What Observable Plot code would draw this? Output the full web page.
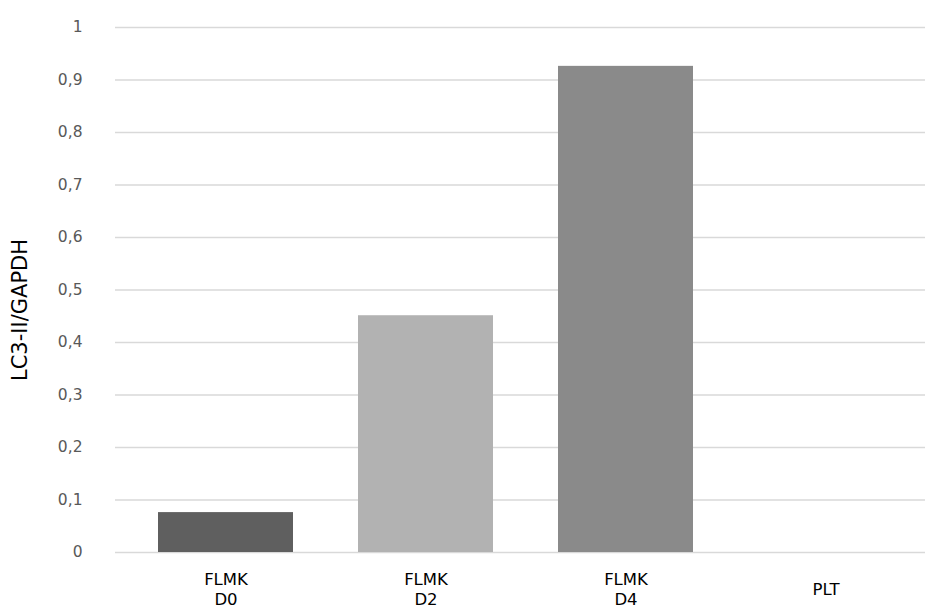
<!DOCTYPE html>
<html>
<head>
<meta charset="utf-8">
<script src="https://cdn.jsdelivr.net/npm/d3@7"></script>
<script src="https://cdn.jsdelivr.net/npm/@observablehq/plot@0.6"></script>
<style>
  html, body { margin: 0; padding: 0; background: #fff; }
  #chart svg { display: block; }
</style>
</head>
<body>
<div id="chart"></div>
<script>
const categories = ["FLMK\nD0", "FLMK\nD2", "FLMK\nD4", "PLT"];
const values = [0.076, 0.451, 0.926, 0];
const colors = ["#5f5f5f", "#b2b2b2", "#8a8a8a", "#d0d0d0"];
const yTicks = [0, 0.1, 0.2, 0.3, 0.4, 0.5, 0.6, 0.7, 0.8, 0.9, 1];
const yLabel = "LC3-II/GAPDH";

const data = categories.map((c, i) => ({cat: c, value: values[i], color: colors[i]}));
const fontFam = "'DejaVu Sans', sans-serif";

const chart = Plot.plot({
  width: 930,
  height: 615,
  marginTop: 27,
  marginBottom: 63,
  marginLeft: 115,
  marginRight: 5,
  style: {fontFamily: fontFam, fontSize: "16px", color: "#595959", background: "#fff"},
  x: {domain: categories, range: [125, 925], paddingInner: 0.325, paddingOuter: 0.1625, label: null},
  y: {domain: [0, 1], label: null},
  marks: [
    Plot.ruleY(yTicks, {stroke: "#d9d9d9", strokeWidth: 1.3}),
    Plot.barY(data, {x: "cat", y: "value", fill: "color"}),
    Plot.axisY(yTicks, {tickSize: 0, tickPadding: 33, tickFormat: d => String(d).replace(".", ","), fill: "#595959", fontSize: 15.5, label: null}),
    Plot.axisX({tickSize: 0, tickPadding: 36, lineAnchor: "middle", fill: "#000", fontSize: 16.5, label: null, lineHeight: 1.2}),
    Plot.text([yLabel], {frameAnchor: "left", textAnchor: "middle", dx: -95, dy: 20, rotate: -90, fill: "#000", fontSize: 21})
  ]
});
document.getElementById("chart").appendChild(chart);
</script>
</body>
</html>
